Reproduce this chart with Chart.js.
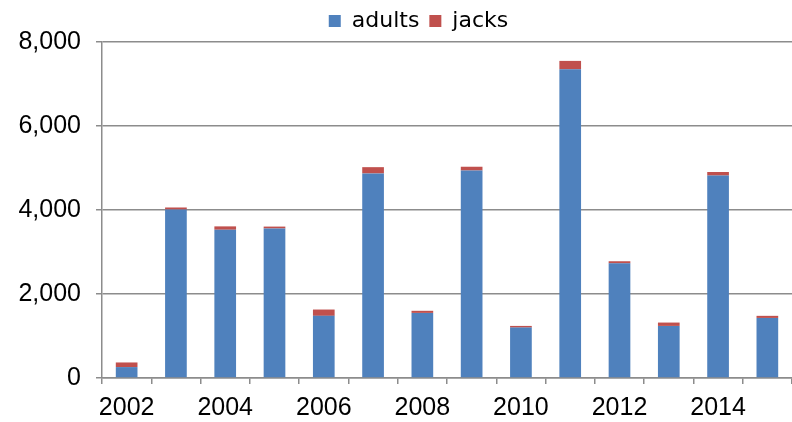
<!DOCTYPE html>
<html>
<head>
<meta charset="utf-8">
<script src="https://cdn.jsdelivr.net/npm/chart.js@4/dist/chart.umd.min.js"></script>
<style>
  html, body { margin: 0; padding: 0; background: #fff; }
  #wrap { width: 792px; height: 422px; }
</style>
</head>
<body>
<div id="wrap"><canvas id="returnsChart"></canvas></div>
<script>
const years = ['2002', '2003', '2004', '2005', '2006', '2007', '2008', '2009', '2010', '2011', '2012', '2013', '2014', '2015'];
const adults = [260, 4010, 3530, 3560, 1480, 4870, 1550, 4940, 1200, 7350, 2730, 1240, 4820, 1430];
const jacks = [110, 50, 80, 45, 150, 150, 50, 90, 40, 200, 50, 80, 85, 50];
const yTicks = [0, 2000, 4000, 6000, 8000];

const gridGray = '#8c8c8c';
const fontFamily = 'Arial, "Liberation Sans", sans-serif';

// legend in the original sits a little right of centre
const legendShift = {
    id: 'legendShift',
    afterLayout(chart) {
        chart.legend.left += 28;
    }
};

function renderChart() {
    const ctx = document.getElementById('returnsChart').getContext('2d');
    new Chart(ctx, {
        type: 'bar',
        data: {
            labels: years,
            datasets: [{
                label: 'adults',
                data: adults,
                backgroundColor: '#4F81BD',
                borderWidth: 0
            }, {
                label: 'jacks',
                data: jacks,
                backgroundColor: '#C0504D',
                borderWidth: 0
            }]
        },
        plugins: [legendShift],
        options: {
            responsive: true,
            maintainAspectRatio: false,
            animation: false,
            layout: { padding: { left: 17, right: 0, top: 0, bottom: 0 } },
            plugins: {
                tooltip: { enabled: false },
                legend: {
                    position: 'top',
                    labels: {
                        color: '#000',
                        boxWidth: 12,
                        boxHeight: 12,
                        padding: 10,
                        font: { family: '"DejaVu Sans", sans-serif', size: 22 }
                    }
                }
            },
            datasets: {
                bar: { categoryPercentage: 1, barPercentage: 0.44 }
            },
            scales: {
                x: {
                    stacked: true,
                    afterFit: function (scale) { scale.height = 44; },
                    grid: {
                        offset: true,
                        drawOnChartArea: false,
                        drawTicks: true,
                        tickLength: 6,
                        lineWidth: 1.5,
                        color: gridGray
                    },
                    border: { color: gridGray, width: 1.5 },
                    ticks: {
                        autoSkip: false,
                        maxRotation: 0,
                        padding: 9,
                        color: '#000',
                        font: { family: fontFamily, size: 25 },
                        callback: function (value, index) {
                            return index % 2 === 0 ? years[index] : '';
                        }
                    }
                },
                y: {
                    stacked: true,
                    min: 0,
                    max: 8000,
                    afterFit: function (scale) { scale.width = 85; },
                    afterBuildTicks: function (axis) {
                        axis.ticks = yTicks.map(v => ({ value: v }));
                    },
                    grid: {
                        color: gridGray,
                        lineWidth: 1.5,
                        tickLength: 6
                    },
                    border: { color: gridGray, width: 1.5 },
                    ticks: {
                        padding: 15,
                        color: '#000',
                        font: { family: fontFamily, size: 25 },
                        callback: function (value) {
                            return value.toLocaleString('en-US');
                        }
                    }
                }
            }
        }
    });
}

document.addEventListener('DOMContentLoaded', renderChart);
</script>
</body>
</html>
